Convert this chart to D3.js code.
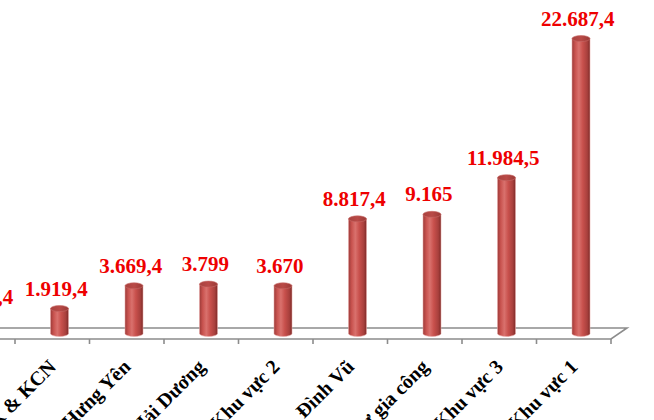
<!DOCTYPE html>
<html>
<head>
<meta charset="utf-8">
<script src="https://cdn.jsdelivr.net/npm/d3@7"></script>
<style>
html,body{margin:0;padding:0;background:#fff;}
svg{display:block;}
svg text{font-family:"Liberation Serif","Times New Roman",Times,serif;font-weight:bold;}
</style>
</head>
<body>
<svg id="chart" width="654" height="420"></svg>
<script>
// Data (chart is cropped on the left; first category is mostly off-frame)
const categories = ["Thái Bình","KCX & KCN","Hưng Yên","Hải Dương","Khu vực 2","Đình Vũ","Đầu tư gia công","Khu vực 3","Khu vực 1"];
const values = [1235.4, 1919.4, 3669.4, 3799, 3670, 8817.4, 9165, 11984.5, 22687.4];
const yDomain = [0, 25000];

const vi = d3.formatLocale({decimal: ",", thousands: ".", grouping: [3], currency: ["", ""]});
const fmt = v => vi.format(",.1f")(v).replace(/,0$/, "");

const svg = d3.select("#chart");
const depthX = 16, depthY = -11;
const frontY = 339;
const x = d3.scaleBand().domain(categories).range([-59.5, 611]).paddingInner(0).paddingOuter(0);
const baseY = frontY + depthY / 2;
const y = d3.scaleLinear().domain(yDomain).range([baseY, baseY - 325]);

const defs = svg.append("defs");
const g1 = defs.append("linearGradient").attr("id", "cyl").attr("x1", "0%").attr("x2", "100%");
[[0, "#9c3b39"], [0.18, "#c9534f"], [0.38, "#d9716d"], [0.6, "#c8504c"], [0.85, "#a8403d"], [1, "#7d2a28"]]
  .forEach(([o, c]) => g1.append("stop").attr("offset", o).attr("stop-color", c));
const g2 = defs.append("linearGradient").attr("id", "cyltop").attr("x1", "0%").attr("x2", "100%");
[[0, "#a8413e"], [0.5, "#b94a47"], [1, "#9a3936"]]
  .forEach(([o, c]) => g2.append("stop").attr("offset", o).attr("stop-color", c));

// floor
const floorColor = "#8c8c8c";
const floor = svg.append("g").attr("stroke", floorColor).attr("stroke-width", 1.6).attr("fill", "none");
const xr = x.range()[1];
floor.append("path").attr("d", `M${x.range()[0]},${frontY}H${xr}L${xr + depthX},${frontY + depthY}H${x.range()[0] + depthX}`);
const tickPos = categories.map(c => x(c)).concat([xr]);
floor.selectAll("line.tick").data(tickPos).join("line")
  .attr("x1", d => d).attr("x2", d => d).attr("y1", frontY).attr("y2", frontY + 5);

// bars (cylinders)
const bw = 18, ry = 3;
const data = categories.map((c, i) => ({c, v: values[i]}));
const bars = svg.append("g").selectAll("g.bar").data(data).join("g");
bars.each(function(d) {
  const gg = d3.select(this);
  const cx = x(d.c) + x.bandwidth() / 2 + depthX / 2 - 0.75;
  const yt = y(d.v), yb = y(0);
  gg.append("path")
    .attr("d", `M${cx - bw/2},${yt}V${yb}A${bw/2},${ry} 0 0 0 ${cx + bw/2},${yb}V${yt}Z`)
    .attr("fill", "url(#cyl)")
    .attr("stroke", "#e8a9a7").attr("stroke-width", 0.8).attr("stroke-opacity", 0.7);
  gg.append("ellipse").attr("cx", cx).attr("cy", yt).attr("rx", bw / 2).attr("ry", ry)
    .attr("fill", "url(#cyltop)").attr("stroke", "#c86a67").attr("stroke-width", 0.6);
});

// value labels
svg.append("g").selectAll("text").data(data).join("text")
  .attr("x", d => x(d.c) + x.bandwidth() / 2 + 4)
  .attr("y", d => y(d.v) - 13)
  .attr("text-anchor", "middle")
  .attr("font-size", 21)
  .attr("fill", "#ee0000")
  .text(d => fmt(d.v));

// category labels
svg.append("g").selectAll("text").data(categories).join("text")
  .attr("transform", d => `translate(${x(d) + x.bandwidth() / 2 + 5},368) rotate(-45)`)
  .attr("text-anchor", "end")
  .attr("font-size", 20)
  .attr("fill", "#000")
  .text(d => d);
</script>
</body>
</html>
